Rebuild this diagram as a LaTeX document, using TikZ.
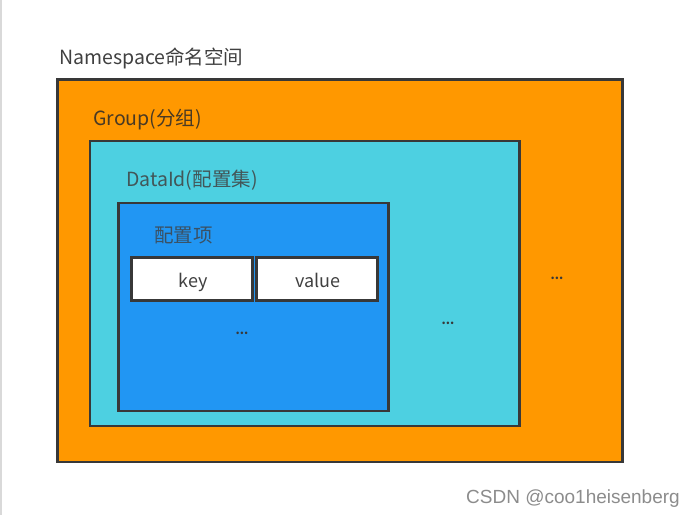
\documentclass[tikz,border=0pt]{standalone}
\usepackage{fontspec}
\setmainfont{Noto Sans CJK SC}
\newfontfamily\markfont{Liberation Sans}
\definecolor{nsorange}{HTML}{FF9800}
\definecolor{grpcyan}{HTML}{4DD0E1}
\definecolor{dataBlue}{HTML}{2196F3}
\definecolor{edgegray}{HTML}{383838}
\definecolor{txtgray}{HTML}{404040}
\tikzset{
  box/.style={draw=edgegray, line width=2.6pt},
  lbl/.style={anchor=base west, inner sep=0pt, font=\fontsize{19.5}{21}\selectfont},
  more/.style={inner sep=0pt, font=\bfseries\fontsize{12}{14}\selectfont, text=edgegray}
}
\begin{document}
\begin{tikzpicture}[x=1pt,y=-1pt]
    \useasboundingbox[fill=white] (0,0) rectangle (695,515);
    \draw[line width=1.5pt, color=gray!30] (1,0)--(1,515);
    % Namespace
    \draw[box, fill=nsorange] (57.5,79.5) rectangle (622.5,462);
    \node[lbl, text=txtgray] (nsName) at (59,64) {Namespace命名空间};
    \node[more] (nsMore) at (557,278) {...};
    % Group
    \draw[box, fill=grpcyan] (90,141) rectangle (519.5,426);
    \node[lbl, text=txtgray!80!nsorange!70!black] (grpName) at (93,125) {Group(分组)};
    \node[more] (grpMore) at (448,323) {...};
    % DataId
    \draw[box, fill=dataBlue] (118.5,203) rectangle (388.5,411);
    \node[lbl, text=txtgray!85!grpcyan] (dataName) at (126,186) {DataId(配置集)};
    \node[more] (dataMore) at (242,333) {...};
    % item
    \node[lbl, text=txtgray!80!dataBlue] (itemName) at (154,242) {配置项};
    \draw[box, fill=white] (131.5,257.5) rectangle (252.5,300.5);
    \draw[box, fill=white] (256.5,257.5) rectangle (377.5,300.5);
    \node[lbl, anchor=base, text=txtgray, font=\fontsize{18}{20}\selectfont] (keyName) at (193,287) {key};
    \node[lbl, anchor=base, text=txtgray, font=\fontsize{18}{20}\selectfont] (valName) at (318,287) {value};
    %\draw[dashed] (0,0)--(695,515);
    \node[anchor=base east, inner sep=0pt, text=gray!90, font=\markfont\fontsize{19}{21}\selectfont] (mark) at (680,503) {CSDN @coo1heisenberg};
\end{tikzpicture}
\end{document}
